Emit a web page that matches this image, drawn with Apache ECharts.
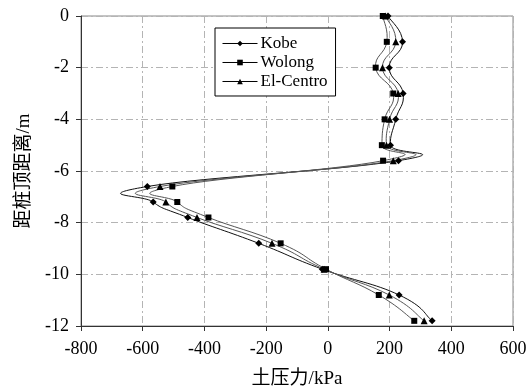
<!DOCTYPE html>
<html>
<head>
<meta charset="utf-8">
<script src="https://cdn.jsdelivr.net/npm/echarts@6/dist/echarts.min.js"></script>
<style>
  html, body { margin: 0; padding: 0; background: #fff; }
  #main { width: 530px; height: 390px; }
</style>
</head>
<body>
<div id="main"></div>
<script>
// 深度 (m) 与三条地震波下的土压力 (kPa)
const depth    = [0, -1, -2, -3, -4, -5, -5.6, -6.6, -7.2, -7.8, -8.8, -9.8, -10.8, -11.8];
const kobe     = [195, 242, 199, 244, 220, 203, 229, -585, -566, -454, -224, -18, 231, 338];
const wolong   = [178, 191, 155, 212, 184, 175, 179, -504, -488, -387, -153, -6, 165, 280];
const elCentro = [187, 220, 177, 228, 200, 190, 212, -544, -525, -424, -181, -12, 199, 312];

const names = ['Kobe', 'Wolong', 'El-Centro'];
const xTicks = [-800, 600, 200];   // min, max, interval
const yTicks = [-12, 0, 2];

const serif = '"Liberation Serif", "Times New Roman", "Noto Sans CJK SC", serif';
const TENSION = 0.24; // 类似 Excel 平滑线的控制点系数

function pairs(xs) {
  return xs.map((v, i) => [v, depth[i]]);
}

// 用贝塞尔段画平滑曲线（控制点由相邻点经坐标轴换算得到）
function curveItem(xs, color) {
  return function (params, api) {
    const i = params.dataIndex;
    if (i >= xs.length - 1) return null;
    const n = xs.length;
    const pt = j => {
      const k = Math.max(0, Math.min(n - 1, j));
      return api.coord([xs[k], depth[k]]);
    };
    const p0 = pt(i - 1), p1 = pt(i), p2 = pt(i + 1), p3 = pt(i + 2);
    return {
      type: 'bezierCurve',
      shape: {
        x1: p1[0], y1: p1[1],
        x2: p2[0], y2: p2[1],
        cpx1: p1[0] + (p2[0] - p0[0]) * TENSION,
        cpy1: p1[1] + (p2[1] - p0[1]) * TENSION,
        cpx2: p2[0] - (p3[0] - p1[0]) * TENSION,
        cpy2: p2[1] - (p3[1] - p1[1]) * TENSION
      },
      style: { stroke: color, lineWidth: 1, fill: 'none' }
    };
  };
}

const sets = [
  { name: names[0], xs: kobe, symbol: 'diamond', size: 7, color: '#111' },
  { name: names[1], xs: wolong, symbol: 'rect', size: 6, color: '#555' },
  { name: names[2], xs: elCentro, symbol: 'triangle', size: 7, color: '#555' }
];

const series = [];
sets.forEach(s => {
  series.push({
    name: s.name + '-curve',
    type: 'custom',
    silent: true,
    z: 2,
    renderItem: curveItem(s.xs, s.color),
    data: pairs(s.xs)
  });
});
sets.forEach(s => {
  series.push({
    name: s.name,
    type: 'line',
    z: 3,
    data: pairs(s.xs),
    symbol: s.symbol,
    symbolSize: s.size,
    showAllSymbol: true,
    itemStyle: { color: '#000' },
    lineStyle: { width: 0, color: '#000' }
  });
});

const splitStyle = { color: '#b4b4b4', width: 1, type: [7, 3, 2, 3] };

const chart = echarts.init(document.getElementById('main'));
chart.setOption({
  animation: false,
  backgroundColor: '#fff',
  grid: {
    left: 81, right: 17, top: 16, bottom: 64,
    containLabel: false,
    outerBoundsMode: 'none',
    show: true,
    borderColor: '#888',
    borderWidth: 1
  },
  legend: {
    data: names,
    orient: 'vertical',
    left: 215,
    top: 28,
    padding: [7, 8, 6, 7],
    itemGap: 2,
    itemWidth: 35,
    itemHeight: 7,
    backgroundColor: '#fff',
    borderColor: '#000',
    borderWidth: 1,
    borderRadius: 0,
    lineStyle: { width: 1, color: '#000' },
    textStyle: { fontFamily: serif, fontSize: 17, color: '#000', padding: [0, 0, 0, -2] }
  },
  xAxis: {
    type: 'value',
    min: xTicks[0],
    max: xTicks[1],
    interval: xTicks[2],
    name: '土压力/kPa',
    nameLocation: 'middle',
    nameGap: 44,
    nameTextStyle: { fontFamily: serif, fontSize: 19, color: '#000' },
    axisLine: { onZero: false, lineStyle: { color: '#333', width: 1 } },
    axisTick: { show: true, inside: false, length: 5, lineStyle: { color: '#333' } },
    axisLabel: { fontFamily: serif, fontSize: 18, color: '#000', margin: 14 },
    splitLine: { show: true, lineStyle: splitStyle }
  },
  yAxis: {
    type: 'value',
    min: yTicks[0],
    max: yTicks[1],
    interval: yTicks[2],
    name: '距桩顶距离/m',
    nameLocation: 'middle',
    nameRotate: 90,
    nameGap: 47,
    nameTextStyle: { fontFamily: serif, fontSize: 19, color: '#000' },
    axisLine: { onZero: false, lineStyle: { color: '#333', width: 1 } },
    axisTick: { show: true, inside: false, length: 5, lineStyle: { color: '#333' } },
    axisLabel: { fontFamily: serif, fontSize: 18, color: '#000', margin: 12 },
    splitLine: { show: true, lineStyle: splitStyle }
  },
  series: series
});
</script>
</body>
</html>
